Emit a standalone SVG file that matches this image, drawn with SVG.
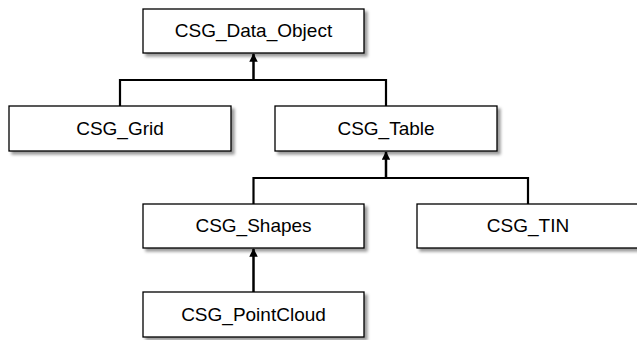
<svg xmlns="http://www.w3.org/2000/svg" width="637" height="340" viewBox="0 0 637 340">
<style>
.box{fill:#fff;stroke:#000;stroke-width:1.3;filter:url(#sh)}
.lbl{font-family:"Liberation Sans",Arial,sans-serif;font-size:19px;fill:#000;text-anchor:middle}
.ln{fill:none;stroke:#000;stroke-width:2.2}
.ar{fill:none;stroke:#000;stroke-width:2.5;marker-end:url(#ah)}
</style>
<defs>
<filter id="sh" x="-10%" y="-20%" width="130%" height="160%">
<feDropShadow dx="3" dy="3" stdDeviation="1.5" flood-color="#000" flood-opacity="0.4"/>
</filter>
<marker id="ah" viewBox="0 0 10 10" refX="9" refY="5" markerWidth="3.4" markerHeight="3.4" orient="auto" markerUnits="strokeWidth">
<path d="M0,0 L10,5 L0,10 z" fill="#000"/>
</marker>
</defs>
<rect width="637" height="340" fill="#fff"/>
<g id="connectors">
<path class="ln" d="M120,106 V80 H386 V106"/>
<path class="ar" d="M253.5,80 V54"/>
<path class="ln" d="M253.5,204 V178 H528 V204"/>
<path class="ar" d="M386,178 V152"/>
<path class="ar" d="M253.5,292 V249"/>
</g>
<g id="n_data_object"><rect class="box" x="143" y="9" width="221" height="44"/><text class="lbl" x="253.5" y="37">CSG_Data_Object</text></g>
<g id="n_grid"><rect class="box" x="9" y="106" width="222" height="45"/><text class="lbl" x="120" y="135">CSG_Grid</text></g>
<g id="n_table"><rect class="box" x="275" y="106" width="222" height="45"/><text class="lbl" x="386" y="135">CSG_Table</text></g>
<g id="n_shapes"><rect class="box" x="143" y="204" width="221" height="44"/><text class="lbl" x="253.5" y="232">CSG_Shapes</text></g>
<g id="n_tin"><rect class="box" x="417" y="204" width="222" height="44"/><text class="lbl" x="528" y="232">CSG_TIN</text></g>
<g id="n_pointcloud"><rect class="box" x="143" y="292" width="221" height="45"/><text class="lbl" x="253.5" y="321">CSG_PointCloud</text></g>
</svg>
